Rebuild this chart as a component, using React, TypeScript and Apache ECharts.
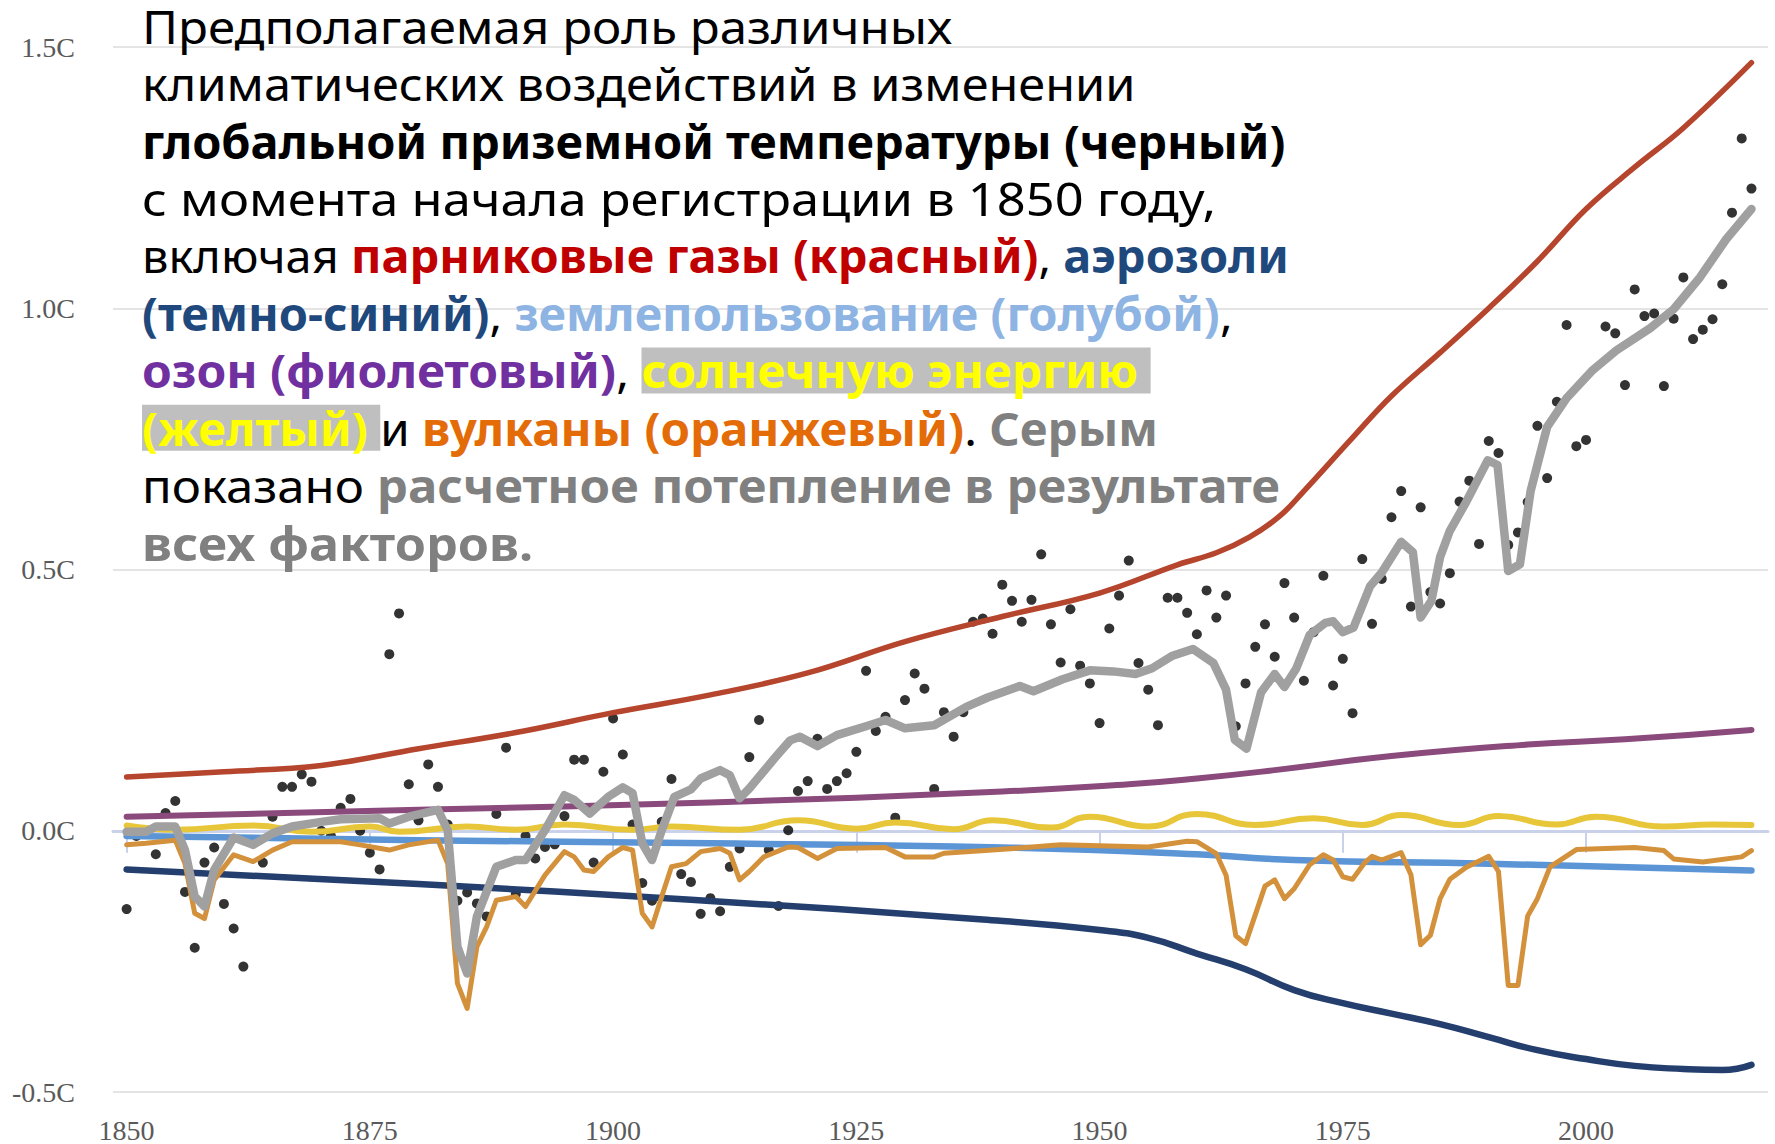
import { useEffect, useRef } from "react";
import * as echarts from "echarts";

// ---------- DATA ----------
const START_YEAR = 1850;
// observed annual global surface temperature (black dots), 1850..2017 (2001 not shown)
const observed: (number | null)[] = [
  -0.15, -0.01, 0.0, -0.045, 0.034, 0.057, -0.117, -0.224, -0.061, -0.032,
  -0.14, -0.187, -0.26, -0.02, -0.061, 0.027, 0.084, 0.084, 0.108, 0.094,
  0.0, -0.01, 0.044, 0.061, 0.0, -0.042, -0.074, 0.338, 0.416, 0.089,
  0.02, 0.127, 0.084, 0.012, -0.134, -0.118, -0.139, -0.164, 0.032, 0.159,
  -0.121, -0.01, -0.053, -0.031, -0.026, 0.028, 0.136, 0.136, -0.061, 0.113,
  0.215, 0.146, 0.012, -0.1, -0.134, 0.017, 0.099, -0.083, -0.098, -0.159,
  -0.129, -0.154, -0.069, -0.034, 0.141, 0.212, -0.037, -0.144, 0.001, 0.076,
  0.095, 0.176, 0.08, 0.095, 0.11, 0.151, 0.306, 0.191, 0.218, 0.025,
  0.25, 0.301, 0.272, 0.08, 0.227, 0.18, 0.227, 0.4, 0.406, 0.377,
  0.471, 0.44, 0.4, 0.442, 0.529, 0.395, 0.322, 0.424, 0.316, 0.282,
  0.206, 0.387, 0.45, 0.517, 0.321, 0.27, 0.202, 0.446, 0.446, 0.417,
  0.376, 0.46, 0.408, 0.45, 0.2, 0.282, 0.352, 0.395, 0.333, 0.474,
  0.408, 0.287, 0.38, 0.488, 0.278, 0.329, 0.225, 0.52, 0.396, 0.482,
  0.6, 0.65, 0.429, 0.619, 0.457, 0.435, 0.493, 0.63, 0.67, 0.549,
  0.746, 0.723, 0.547, 0.571, 0.629, 0.775, 0.675, 0.821, 0.968, 0.736,
  0.748, null, 0.965, 0.952, 0.853, 1.036, 0.985, 0.99, 0.851, 0.98,
  1.059, 0.941, 0.959, 0.979, 1.046, 1.183, 1.325, 1.229,
];

const greenhouse = [
  [1850, 0.103], [1860, 0.113], [1870, 0.125], [1880, 0.157], [1890, 0.188],
  [1900, 0.226], [1910, 0.26], [1920, 0.302], [1930, 0.362], [1940, 0.41],
  [1950, 0.455], [1958, 0.509], [1962, 0.532], [1965.4, 0.562], [1968.5, 0.602],
  [1971, 0.65], [1975.7, 0.746], [1980, 0.832], [1985, 0.915], [1990, 1.0],
  [1995, 1.09], [2000, 1.19], [2005, 1.27], [2010, 1.345], [2017, 1.47],
];

const ozone = [
  [1850, 0.027], [1880, 0.04], [1910, 0.054], [1940, 0.075], [1953, 0.089],
  [1960, 0.1], [1968, 0.116], [1980, 0.143], [1994, 0.165], [2004, 0.175],
  [2017, 0.193],
];

const landUse = [
  [1850, -0.01], [1880, -0.018], [1910, -0.024], [1940, -0.032], [1960, -0.045],
  [1970, -0.056], [1990, -0.063], [2017, -0.076],
];

const aerosols = [
  [1850, -0.074], [1880, -0.102], [1908, -0.132], [1938, -0.17], [1950, -0.19],
  [1955, -0.205], [1960, -0.235], [1965, -0.265], [1970, -0.305], [1975, -0.33],
  [1980, -0.35], [1985, -0.37], [1990, -0.395], [1995, -0.42], [2000, -0.437],
  [2005, -0.45], [2010, -0.456], [2014, -0.458], [2017, -0.448],
];

const solar = [
  [1850, 0.01], [1855, 0.002], [1863, 0.01], [1869, -0.002], [1875, 0.008],
  [1878, -0.002], [1885, 0.008], [1890, 0.002], [1895, 0.012], [1902, 0.002],
  [1906, 0.008], [1913, 0.002], [1919, 0.02], [1925, 0.004], [1929, 0.016],
  [1935, 0.003], [1939, 0.02], [1945, 0.006], [1949, 0.027], [1955, 0.008],
  [1960, 0.032], [1966, 0.011], [1972, 0.024], [1977, 0.011], [1981, 0.03],
  [1987, 0.011], [1991, 0.028], [1997, 0.012], [2001, 0.027], [2008, 0.008],
  [2013, 0.012], [2017, 0.011],
];

const volcanic = [
  [1850, -0.027], [1852, -0.024], [1855, -0.018], [1856, -0.063], [1857, -0.158],
  [1858, -0.168], [1859, -0.094], [1861, -0.046], [1863, -0.059], [1865, -0.037],
  [1867, -0.021], [1872, -0.021], [1874, -0.027], [1877, -0.037], [1879, -0.027],
  [1882, -0.018], [1883, -0.063], [1884, -0.292], [1885, -0.34], [1886, -0.222],
  [1887, -0.184], [1888, -0.133], [1890, -0.126], [1891, -0.145], [1893, -0.085],
  [1895, -0.04], [1896, -0.05], [1897, -0.075], [1898, -0.078], [1899.5, -0.05],
  [1901, -0.032], [1902, -0.037], [1903, -0.158], [1904, -0.184], [1905, -0.126],
  [1906, -0.069], [1907.5, -0.063], [1909, -0.04], [1911, -0.034], [1912, -0.043],
  [1913, -0.094], [1914, -0.078], [1915.5, -0.05], [1918, -0.031], [1919, -0.032],
  [1921, -0.053], [1923, -0.034], [1928, -0.032], [1930, -0.05], [1933, -0.05],
  [1934, -0.043], [1939, -0.037], [1946, -0.027], [1951, -0.029], [1955, -0.031],
  [1959, -0.02], [1960, -0.021], [1962, -0.044], [1963, -0.085], [1964, -0.201],
  [1965, -0.216], [1967, -0.106], [1968, -0.094], [1969, -0.13], [1970, -0.111],
  [1971.6, -0.065], [1973, -0.046], [1974, -0.056], [1975, -0.088], [1976, -0.093],
  [1977.3, -0.06], [1978, -0.049], [1979, -0.056], [1981, -0.042], [1982, -0.084],
  [1983, -0.218], [1984, -0.2], [1985, -0.13], [1986, -0.093], [1987.7, -0.07],
  [1990, -0.049], [1991, -0.078], [1992, -0.296], [1993, -0.296], [1994, -0.163],
  [1995, -0.13], [1996.3, -0.069], [1999, -0.036], [2005, -0.032], [2008, -0.038],
  [2009, -0.054], [2012, -0.06], [2016, -0.05], [2017, -0.038],
];

const allFactors = [
  [1850, -0.002], [1852, -0.002], [1853, 0.008], [1855, 0.008], [1856, -0.037],
  [1857, -0.126], [1858, -0.145], [1859, -0.075], [1861, -0.013], [1863, -0.027],
  [1865, -0.005], [1867, 0.008], [1870, 0.017], [1872, 0.022], [1876, 0.024],
  [1877, 0.014], [1879, 0.027], [1882, 0.04], [1883, 0.001], [1884, -0.222],
  [1885, -0.273], [1886, -0.164], [1888, -0.069], [1890, -0.056], [1891, -0.056],
  [1893, 0.001], [1895, 0.068], [1896, 0.059], [1897.6, 0.033], [1899.5, 0.065],
  [1901, 0.083], [1902, 0.072], [1903, -0.024], [1904, -0.056], [1905, 0.001],
  [1906.3, 0.065], [1908, 0.079], [1909, 0.1], [1911, 0.116], [1912, 0.106],
  [1913, 0.062], [1914, 0.081], [1916.7, 0.141], [1918.2, 0.173], [1919.2, 0.18],
  [1921, 0.162], [1923, 0.183], [1926, 0.2], [1928, 0.212], [1930, 0.196],
  [1933, 0.202], [1936.3, 0.237], [1938.5, 0.255], [1941.8, 0.277], [1943.2, 0.267],
  [1946.2, 0.29], [1949, 0.307], [1951.4, 0.305], [1953.7, 0.3], [1955.4, 0.311],
  [1957.5, 0.335], [1959.6, 0.348], [1961.7, 0.321], [1963, 0.27], [1963.9, 0.174],
  [1965.1, 0.157], [1966.6, 0.265], [1968, 0.3], [1969, 0.275], [1970.2, 0.31],
  [1971.6, 0.375], [1973.2, 0.398], [1974, 0.401], [1975, 0.38], [1976.1, 0.389],
  [1977.8, 0.468], [1979, 0.494], [1981, 0.553], [1982.2, 0.533], [1983, 0.408],
  [1984.1, 0.44], [1985, 0.524], [1986, 0.574], [1987.7, 0.63], [1989.9, 0.709],
  [1990.9, 0.7], [1992, 0.497], [1993.2, 0.51], [1994.3, 0.65], [1996, 0.773],
  [1998, 0.828], [2000.7, 0.882], [2003.1, 0.919], [2006.6, 0.962], [2009, 0.998],
  [2011.7, 1.059], [2014.4, 1.132], [2017, 1.19],
];

const xTicks = [1850, 1875, 1900, 1925, 1950, 1975, 2000];

// title lines (rich text)
const titleLines = [
  "{n|Предполагаемая роль различных}",
  "{n|климатических воздействий в изменении}",
  "{b|глобальной приземной температуры (черный)}",
  "{n|с момента начала регистрации в 1850 году,}",
  "{n|включая }{r|парниковые газы (красный)}{n|, }{db|аэрозоли}",
  "{db|(темно-синий)}{n|, }{lb|землепользование (голубой)}{n|,}",
  "{p|озон (фиолетовый)}{n|, }{y|солнечную энергию }",
  "{y|(желтый) }{n|и }{o|вулканы (оранжевый)}{n|. }{g|Серым}",
  "{n|показано }{g|расчетное потепление в результате}",
  "{g|всех факторов.}",
];
// horizontal stretch of each title line, to match the original's line widths
const titleStretch = [1.07, 1.058, 1.021, 1.1, 1.02, 1.022, 1.042, 1.031, 1.068, 1.093];

const TF = "Noto Sans";
const TS = 46;
const base = { fontFamily: TF, fontSize: TS, lineHeight: 46 };
const bold = { ...base, fontWeight: 700 };
const rich = {
  n: { ...base, fontWeight: 400, fill: "#000000" },
  b: { ...bold, fill: "#000000" },
  r: { ...bold, fill: "#c00000" },
  db: { ...bold, fill: "#1f497d" },
  lb: { ...bold, fill: "#8db4e2" },
  p: { ...bold, fill: "#7030a0" },
  y: { ...bold, lineHeight: 51, fill: "#ffff00", backgroundColor: "#bfbfbf" },
  o: { ...bold, fill: "#e36c09" },
  g: { ...bold, fill: "#808080" },
};

export default function App() {
  const ref = useRef<HTMLDivElement>(null);
  useEffect(() => {
    const chart = echarts.init(ref.current!, null, { renderer: "svg" });
    const dots = observed
      .map((v, i) => (v == null ? null : [START_YEAR + i, v]))
      .filter((d) => d !== null);
    const lineSeries = (name: string, data: number[][], color: string, width: number, smooth: boolean | number) => ({
      name,
      type: "line",
      data,
      smooth,
      showSymbol: false,
      symbol: "none",
      silent: true,
      lineStyle: { color, width, cap: "round", join: "round" },
    });
    chart.setOption({
      animation: false,
      backgroundColor: "#ffffff",
      grid: { left: 113, right: 7, top: 47, bottom: 51 },
      xAxis: {
        type: "value",
        min: 1848.6,
        max: 2018.7,
        axisLine: { show: true, lineStyle: { color: "#c9d2ea", width: 3 } },
        axisTick: { show: true, length: 22, customValues: xTicks, lineStyle: { color: "#c9d2ea", width: 2 } },
        axisLabel: {
          customValues: xTicks,
          margin: 24,
          fontFamily: "Liberation Serif",
          fontSize: 28,
          color: "#5a5a5a",
          formatter: (v: number) => String(v),
        },
        splitLine: { show: false },
      },
      yAxis: {
        type: "value",
        min: -0.5,
        max: 1.5,
        interval: 0.5,
        axisLine: { show: false },
        axisTick: { show: false },
        axisLabel: {
          margin: 38,
          fontFamily: "Liberation Serif",
          fontSize: 28,
          color: "#5a5a5a",
          formatter: (v: number) => v.toFixed(1) + "C",
        },
        splitLine: { lineStyle: { color: "#e4e4e4", width: 2 } },
      },
      series: [
        {
          name: "observed",
          type: "scatter",
          data: dots,
          symbolSize: 10,
          silent: true,
          itemStyle: { color: "#000000" },
        },
        lineSeries("aerosols", aerosols, "#243f6e", 6.5, true),
        lineSeries("landUse", landUse, "#5b95d5", 6.5, true),
        lineSeries("ozone", ozone, "#8b4a7c", 6, true),
        lineSeries("solar", solar, "#e8c63a", 6, 0.5),
        lineSeries("greenhouse", greenhouse, "#b5452c", 5.5, 0.4),
        lineSeries("volcanic", volcanic, "#d4913b", 5, false),
        lineSeries("allFactors", allFactors, "#a0a0a0", 8.5, false),
      ],
      graphic: [
        {
          type: "group",
          x: 142,
          y: 0,
          z: 100,
          children: titleLines.map((t, i) => ({
            type: "text",
            x: 0,
            y: 26 + i * 57.4,
            scaleX: titleStretch[i],
            z: 100,
            style: {
              text: t,
              rich,
              fontFamily: TF,
              fontSize: TS,
              align: "left",
              verticalAlign: "middle",
            },
          })),
        },
      ],
    });
    return () => chart.dispose();
  }, []);
  return (
    <div
      ref={ref}
      style={{ position: "fixed", left: 0, top: 0, width: 1775, height: 1144, background: "#fff" }}
    />
  );
}
